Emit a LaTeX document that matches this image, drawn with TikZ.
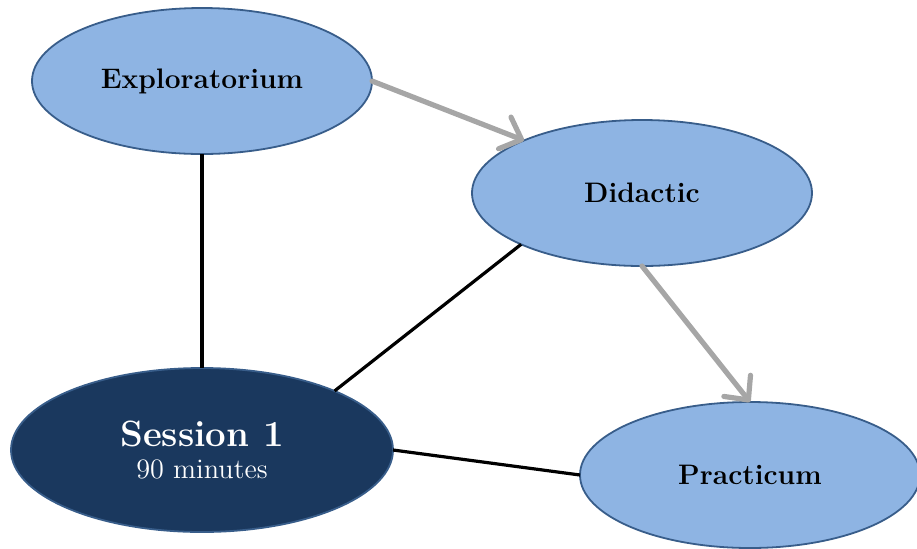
\documentclass[tikz,border=0pt]{standalone}
\usepackage{tikz}
\usetikzlibrary{arrows.meta,shapes.geometric}
\definecolor{lightblue}{HTML}{8EB4E3}
\definecolor{edgeblue}{HTML}{385D8A}
\definecolor{navy}{HTML}{1A385E}
\definecolor{arrgray}{HTML}{A6A6A6}
\tikzset{
  topic/.style={ellipse, draw=edgeblue, line width=0.9pt, fill=lightblue, inner sep=0pt, outer sep=0pt,
    minimum width=170pt, minimum height=73pt, font=\fontsize{14.1}{16}\selectfont\bfseries},
  sess/.style={topic, fill=navy, text=white, minimum width=191pt, minimum height=82pt, align=center,
    font=\fontsize{14.1}{17}\selectfont},
  link/.style={line width=1.6pt, black},
  flow/.style={line width=2.6pt, arrgray, line cap=round, -{Straight Barb[length=9pt, width=17pt, round]}}}
\begin{document}
\begin{tikzpicture}[x=0.5pt, y=-0.5pt]
  \useasboundingbox (0,0) rectangle (917,548);
  % the four parts
  \node[topic] (expl) at (202,81) {Exploratorium};
  \node[topic] (did) at (642,193) {Didactic};
  \node[topic] (prac) at (750,475) {Practicum};
  \node[sess] (ses) at (202,450) {{\fontsize{18.3}{20}\selectfont\bfseries Session 1}\\[-1pt]90 minutes};
  % connectors
  \draw[link] (expl.south) -- (ses.north);
  \draw[link] (did.203) -- (ses.24);
  \draw[link] (ses.east) -- (prac.west);
  \draw[flow] (expl.east) -- (did.156);
  \draw[flow] (did.south) -- (prac.north);
\end{tikzpicture}
\end{document}
